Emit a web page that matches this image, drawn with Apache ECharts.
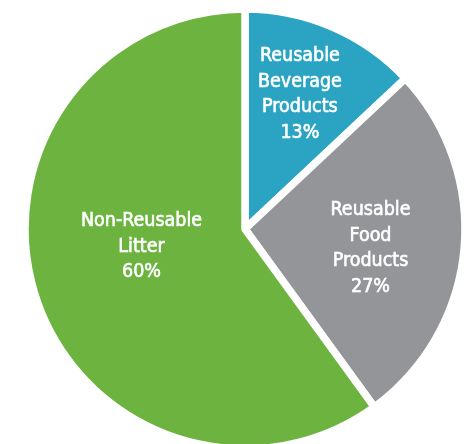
<!DOCTYPE html>
<html>
<head>
<meta charset="utf-8">
<script src="https://cdn.jsdelivr.net/npm/echarts@6/dist/echarts.min.js"></script>
<style>
html,body{margin:0;padding:0;background:#fff;}
#c{width:471px;height:444px;}
</style>
</head>
<body>
<div id="c"></div>
<script>
const categories = ['Reusable\nBeverage\nProducts', 'Reusable\nFood\nProducts', 'Non-Reusable\nLitter'];
const values = [13, 27, 60];
const colors = ['#2ba3c3', '#939598', '#6cb33f'];

const labelShift = [[10, -31], [13, 9], [4, -17]];

const chart = echarts.init(document.getElementById('c'), null, {renderer: 'canvas'});
chart.setOption({
  animation: false,
  series: [{
    type: 'pie',
    center: [245, 229],
    radius: [0, 220],
    startAngle: 90,
    clockwise: true,
    data: categories.map((n, i) => ({name: n, value: values[i], itemStyle: {color: colors[i]}})),
    itemStyle: {borderColor: '#ffffff', borderWidth: 7.5},
    label: {
      position: 'inside',
      color: '#ffffff',
      fontFamily: "'Liberation Sans Narrow', 'DejaVu Sans Condensed', 'Roboto', sans-serif",
      fontSize: 19.5,
      lineHeight: 25.5,
      textBorderColor: '#ffffff',
      textBorderWidth: 0.6,
      align: 'center',
      formatter: p => p.name + '\n' + p.value + '%'
    },
    labelLine: {show: false},
    labelLayout: p => ({dx: labelShift[p.dataIndex][0], dy: labelShift[p.dataIndex][1]}),
    emphasis: {disabled: true}
  }]
});
</script>
</body>
</html>
